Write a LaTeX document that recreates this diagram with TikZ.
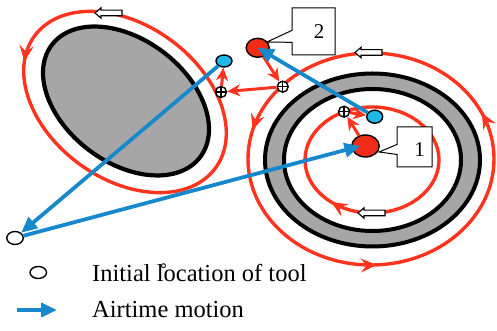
\documentclass[tikz,border=0pt]{standalone}
\usepackage{fontspec}
\setmainfont{Liberation Serif}
\usetikzlibrary{arrows.meta,decorations.markings,shapes.geometric,shapes.callouts}

\definecolor{pathred}{RGB}{255,52,30}
\definecolor{dotred}{RGB}{240,44,24}
\definecolor{airblue}{RGB}{24,136,204}
\definecolor{toolcyan}{RGB}{30,184,232}
\definecolor{diskgray}{RGB}{166,166,166}

\begin{document}
\begin{tikzpicture}[x=1pt,y=1pt,
  looppath/.style={draw=pathred, line width=3.4pt, postaction={decorate}},
  looptip/.style={decoration={markings,
      mark=at position #1 with {\arrow{Stealth[length=16pt,width=14pt,inset=6pt]}}}},
  looptipback/.style={decoration={markings,
      mark=at position #1 with {\arrowreversed{Stealth[length=16pt,width=14pt,inset=6pt]}}}},
  hop/.style={draw=pathred, line width=3pt, -{Stealth[length=13pt,width=12pt,inset=4pt]}},
  air/.style={draw=airblue, line width=3.8pt, -{Triangle[length=16pt,width=14pt]}},
  tooldot/.style={ellipse, draw=black, line width=1.4pt, inner sep=0pt},
  cuttool/.style={tooldot, fill=dotred},
  airtool/.style={tooldot, fill=toolcyan},
  starttool/.style={tooldot, fill=white, minimum width=16.5pt, minimum height=13pt},
  cross/.style={circle, draw=black, fill=white, line width=1.4pt, minimum size=11pt, inner sep=0pt,
      path picture={\draw[line width=1.1pt]
        (path picture bounding box.north) -- (path picture bounding box.south)
        (path picture bounding box.west) -- (path picture bounding box.east);}},
  tag/.style={rectangle callout, draw=black, fill=white, line width=1pt, inner sep=0pt},
  tagnum/.style={font=\fontsize{21}{21}\selectfont, inner sep=0pt},
  legend/.style={font=\fontsize{24.5}{24.5}\selectfont, anchor=base west, inner sep=0pt},
  hollowleft/.pic={\filldraw[fill=white, draw=black, line width=1.1pt]
      (0,0) -- (6,5.2) -- (6,2.8) -- (27,2.8) -- (27,-2.8) -- (6,-2.8) -- (6,-5.2) -- cycle;}
]
\useasboundingbox (0,0) rectangle (497,331);

% left workpiece and the loop round it
\filldraw[fill=diskgray, draw=black, line width=4.2pt, rotate around={-37:(126,230)}]
  (126,230) ellipse [x radius=93, y radius=61.5];
\draw[looppath, looptip=0.546, rotate around={-36:(125,229)}]
  (125,229) ellipse [x radius=112, y radius=77];
\pic at (95,318) {hollowleft};

% right ring workpiece
\fill[diskgray, even odd rule]
  (372.5,171) ellipse [x radius=107.5, y radius=86.5]
  (372.5,171) ellipse [x radius=88.5, y radius=71];
\draw[line width=4pt] (372.5,171) ellipse [x radius=107.5, y radius=86.5];
\draw[line width=4pt] (372.5,171) ellipse [x radius=88.5, y radius=71];

% outer and inner cutting loops of the ring
\draw[looppath, decoration={markings,
      mark=at position 0.067 with {\arrow{Stealth[length=16pt,width=14pt,inset=6pt]}},
      mark=at position 0.459 with {\arrow{Stealth[length=16pt,width=14pt,inset=6pt]}},
      mark=at position 0.758 with {\arrow{Stealth[length=16pt,width=14pt,inset=6pt]}}}]
  (371,172) ellipse [x radius=123, y radius=106];
\draw[looppath, looptipback=0.637] (372,171) ellipse [x radius=67, y radius=53];
\pic at (355,278.5) {hollowleft};
\pic at (358,118) {hollowleft};

% tool positions
\node[cuttool, minimum width=23pt, minimum height=19pt] (r2) at (257.7,283.2) {};
\node[cuttool, minimum width=27.5pt, minimum height=22pt] (r1) at (365.5,185) {};
\node[airtool, minimum width=16pt, minimum height=12pt] (bL) at (224,270) {};
\node[airtool, minimum width=16pt, minimum height=13pt] (bR) at (374.7,214.3) {};
\node[cross] (xL) at (221,239) {};
\node[cross] (xR) at (282.7,244.3) {};
\node[cross] (xI) at (344,219.3) {};
\node[starttool] (s0) at (15,93) {};

% numbered tags
\node[tag, minimum width=43pt, minimum height=47pt, callout pointer width=12pt,
      callout absolute pointer={(267,289)}] (t2) at (313.5,299.5) {};
\node[tagnum] (n2) at (319,299) {2};
\node[tag, minimum width=35pt, minimum height=40pt, callout pointer width=10pt,
      callout absolute pointer={(379,179)}] (t1) at (414.5,184) {};
\node[tagnum] (n1) at (419.5,181) {1};

% short moves between loops
\draw[hop] (r2) -- (xR);
\draw[hop] (xR) -- (xL);
\draw[hop] (xL) -- (bL);
\draw[hop] (r1) -- (xI);
\draw[hop] (xI) -- (bR);

% airtime moves
\draw[air] (bR) -- (r2.center);
\draw[air] (bL) -- (s0);
\draw[air] (s0) -- ([xshift=-5pt]r1.center);

% legend
\node[starttool, minimum width=16.5pt, minimum height=12pt] (k1) at (38.3,58.5) {};
\node[legend] (k1t) at (92,49) {Initial l̊ocation of tool};
\coordinate (k2a) at (17,21);
\coordinate (k2b) at (57,21);
\draw[air] (k2a) -- (k2b);
\node[legend] (k2t) at (92,13) {Airtime motion};
\end{tikzpicture}
\end{document}
